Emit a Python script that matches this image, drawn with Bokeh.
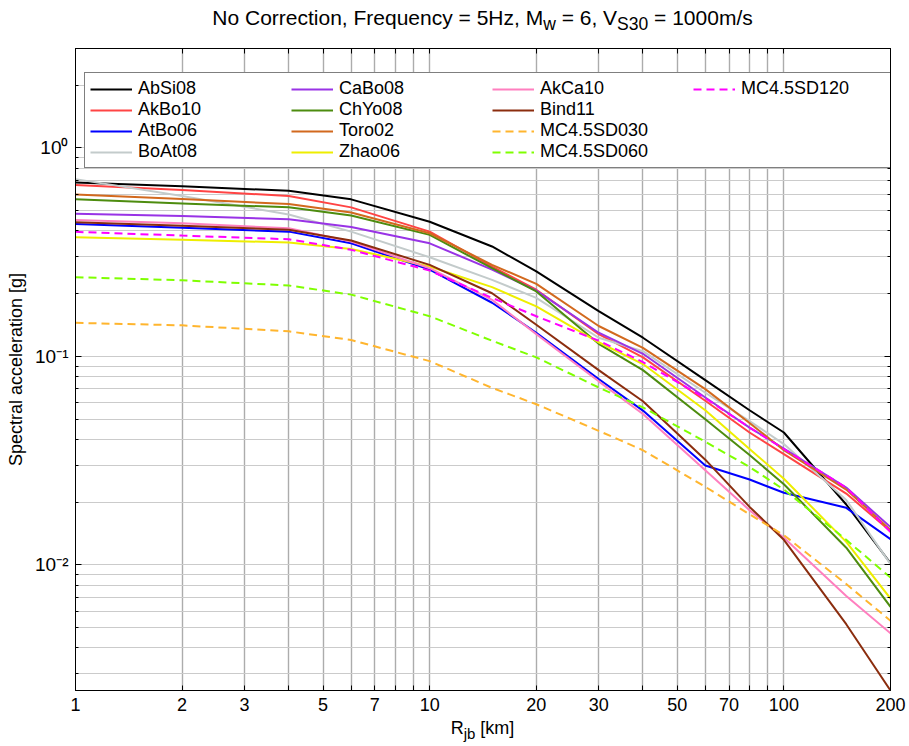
from bokeh.plotting import figure
from bokeh.models import FixedTicker, LogAxis, Legend, LegendItem, Range1d, Div
from bokeh.layouts import column
from bokeh.embed import file_html
from bokeh.resources import INLINE

# Distance (km)
R_km = [1, 2, 4, 6, 10, 15, 20, 30, 40, 60, 80, 100, 150, 200]

# Spectral acceleration [g]
AbSi08 = [0.683, 0.656, 0.623, 0.567, 0.443, 0.337, 0.256, 0.165, 0.123, 0.077, 0.0552, 0.0432, 0.0195, 0.0102]
AkBo10 = [0.664, 0.628, 0.588, 0.519, 0.397, 0.270, 0.209, 0.128, 0.099, 0.0613, 0.0432, 0.0340, 0.022, 0.0145]
AtBo06 = [0.432, 0.414, 0.397, 0.349, 0.261, 0.181, 0.130, 0.078, 0.055, 0.030, 0.0257, 0.0222, 0.0188, 0.0133]
BoAt08 = [0.709, 0.588, 0.480, 0.397, 0.299, 0.233, 0.191, 0.123, 0.106, 0.067, 0.049, 0.038, 0.0205, 0.0101]
CaBo08 = [0.484, 0.472, 0.455, 0.418, 0.349, 0.261, 0.207, 0.130, 0.103, 0.0636, 0.0456, 0.0362, 0.0235, 0.0152]
ChYo08 = [0.567, 0.542, 0.519, 0.474, 0.383, 0.265, 0.205, 0.115, 0.086, 0.050, 0.0337, 0.0244, 0.0121, 0.0063]
Toro02 = [0.598, 0.569, 0.538, 0.490, 0.390, 0.275, 0.223, 0.140, 0.110, 0.0697, 0.048, 0.0355, 0.023, 0.0147]
Zhao06 = [0.373, 0.363, 0.352, 0.328, 0.270, 0.215, 0.174, 0.117, 0.092, 0.0552, 0.036, 0.0259, 0.0129, 0.0069]
AkCa10 = [0.452, 0.435, 0.412, 0.356, 0.265, 0.187, 0.128, 0.076, 0.053, 0.0285, 0.0183, 0.0135, 0.0071, 0.0047]
Bind11 = [0.440, 0.424, 0.405, 0.360, 0.275, 0.201, 0.142, 0.086, 0.061, 0.032, 0.019, 0.0132, 0.0052, 0.0025]
MC45SD030 = [0.145, 0.141, 0.132, 0.120, 0.095, 0.0707, 0.059, 0.044, 0.0355, 0.0237, 0.0175, 0.0139, 0.0081, 0.0054]
MC45SD060 = [0.240, 0.232, 0.219, 0.198, 0.156, 0.119, 0.099, 0.071, 0.057, 0.039, 0.0295, 0.023, 0.0132, 0.0087]
MC45SD120 = [0.396, 0.380, 0.365, 0.325, 0.258, 0.191, 0.156, 0.119, 0.094, 0.0630, 0.0456, 0.0360, 0.0235, 0.0144]

series_names = ["AbSi08", "AkBo10", "AtBo06", "BoAt08", "CaBo08", "ChYo08", "Toro02",
                "Zhao06", "AkCa10", "Bind11", "MC4.5SD030", "MC4.5SD060", "MC4.5SD120"]
series_values = [AbSi08, AkBo10, AtBo06, BoAt08, CaBo08, ChYo08, Toro02,
                 Zhao06, AkCa10, Bind11, MC45SD030, MC45SD060, MC45SD120]
series_colors = ["#000000", "#ff4444", "#0000ff", "#c3cbcb", "#9933e6", "#4d8c0f", "#d2691e",
                 "#eeee00", "#ff7fbf", "#8b2d0e", "#ffb52e", "#7fff00", "#ff00ff"]
series_dash = ["solid"] * 10 + ["8 5"] * 3

x_ticks = [1, 2, 3, 4, 5, 6, 7, 8, 9, 10, 20, 30, 40, 50, 60, 70, 80, 90, 100, 200]
x_tick_labels = {1: "1", 2: "2", 3: "3", 4: "", 5: "5", 6: "", 7: "7", 8: "", 9: "", 10: "10",
                 20: "20", 30: "30", 40: "", 50: "50", 60: "", 70: "70", 80: "", 90: "",
                 100: "100", 200: "200"}
y_ticks = [0.01, 0.1, 1]
y_minor = [0.003, 0.004, 0.005, 0.006, 0.007, 0.008, 0.009,
           0.02, 0.03, 0.04, 0.05, 0.06, 0.07, 0.08, 0.09,
           0.2, 0.3, 0.4, 0.5, 0.6, 0.7, 0.8, 0.9, 2, 3]
y_tick_labels = {0.01: "10\u207b\u00b2", 0.1: "10\u207b\u00b9", 1: "10\u2070"}

title_html = "No Correction, Frequency = 5Hz, M<sub>w</sub> = 6, V<sub>S30</sub> = 1000m/s"
xlabel_html = "R<sub>jb</sub> [km]"
ylabel_text = "Spectral acceleration [g]"

FONT = "Liberation Sans"

TITLE_H = 40
XLAB_H = 28
FIG_H = 746 - TITLE_H - XLAB_H

p = figure(width=909, height=FIG_H, x_axis_type="log", y_axis_type="log",
           x_range=Range1d(1, 200), y_range=Range1d(0.0025, 3.0),
           output_backend="svg", toolbar_location=None,
           min_border_left=75, min_border_right=19, min_border_top=8, min_border_bottom=28)
p.background_fill_color = "white"
p.border_fill_color = "white"
p.outline_line_color = "black"
p.outline_line_width = 1

xt = FixedTicker(ticks=x_ticks, minor_ticks=[])
yt = FixedTicker(ticks=y_ticks, minor_ticks=y_minor)

xa = p.xaxis[0]
xa.ticker = xt
xa.major_label_overrides = x_tick_labels
xa.major_tick_in = 5
xa.major_tick_out = 0
xa.minor_tick_line_color = None
xa.major_label_standoff = 7
xa.major_label_text_font = FONT
xa.major_label_text_font_size = "18px"
xa.major_label_text_color = "black"
xa.axis_line_color = "black"

ya = p.yaxis[0]
ya.ticker = yt
ya.major_label_overrides = y_tick_labels
ya.major_tick_in = 6
ya.major_tick_out = 0
ya.minor_tick_in = 3
ya.minor_tick_out = 0
ya.major_label_standoff = 7
ya.major_label_text_font = FONT
ya.major_label_text_font_size = "19px"
ya.major_label_text_color = "black"
ya.axis_label = ylabel_text
ya.axis_label_text_font = FONT
ya.axis_label_text_font_size = "18px"
ya.axis_label_text_font_style = "normal"
ya.axis_label_text_color = "black"
ya.axis_label_standoff = 6

# Box axes on top and right: ticks only
ax_top = LogAxis(ticker=xt, major_tick_in=5, major_tick_out=0, minor_tick_line_color=None,
                 major_label_overrides={t: "" for t in x_ticks}, major_label_standoff=0,
                 axis_line_color="black")
ax_right = LogAxis(ticker=yt, major_tick_in=6, major_tick_out=0, minor_tick_in=3, minor_tick_out=0,
                   major_label_overrides={t: "" for t in y_ticks}, major_label_standoff=0,
                   axis_line_color="black")
p.add_layout(ax_top, "above")
p.add_layout(ax_right, "right")

p.xgrid.grid_line_color = "#acacac"
p.xgrid.grid_line_width = 1.4
p.ygrid.grid_line_color = "#cbcbcb"
p.ygrid.minor_grid_line_color = "#cbcbcb"
p.ygrid.grid_line_width = 1
p.ygrid.minor_grid_line_width = 1

items = []
for name, vals, col, dash in zip(series_names, series_values, series_colors, series_dash):
    r = p.line(R_km, vals, line_color=col, line_width=2, line_dash=dash)
    items.append(LegendItem(label=name, renderers=[r]))

legend = Legend(items=items, location=(9, 522), orientation="vertical", nrows=4,
                border_line_color="black", border_line_width=1, background_fill_color="white",
                background_fill_alpha=1, padding=5, spacing=0, margin=0,
                glyph_width=42, glyph_height=16, label_height=16, label_width=153,
                label_standoff=6, label_text_font=FONT, label_text_font_size="18px",
                label_text_color="black")
p.add_layout(legend, "center")

title_div = Div(text=('<div style="width:815px; margin-left:75px; text-align:center; '
                      'font-family:\'Liberation Sans\'; font-size:21px; color:black; '
                      'padding-top:5px; line-height:1.2;">' + title_html + '</div>'),
                width=909, height=TITLE_H, margin=0, styles={"margin": "0", "padding": "0"})
xlabel_div = Div(text=('<div style="width:815px; margin-left:75px; text-align:center; '
                       'font-family:\'Liberation Sans\'; font-size:18px; color:black; '
                       'padding-top:0px; line-height:1.2;">' + xlabel_html + '</div>'),
                 width=909, height=XLAB_H, margin=0, styles={"margin": "0", "padding": "0"})

layout = column(title_div, p, xlabel_div, spacing=0)

open("out.html", "w").write(file_html(layout, INLINE))
